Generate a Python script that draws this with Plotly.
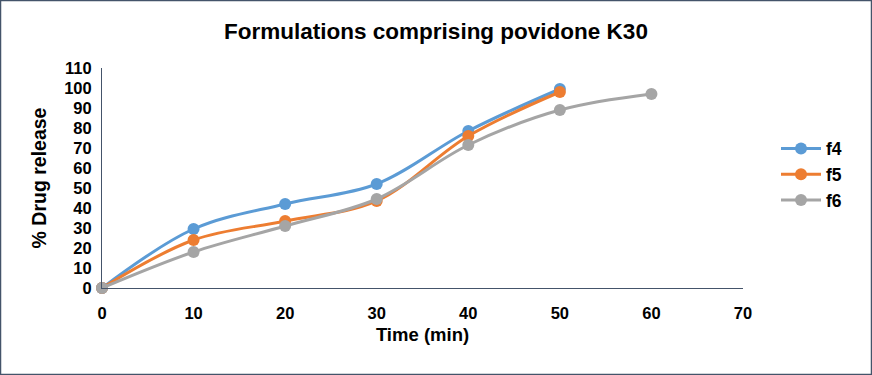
import plotly.graph_objects as go

time_f4 = [0, 10, 20, 30, 40, 50]
f4 = [0, 29.5, 42, 52, 78.5, 99.5]
time_f5 = [0, 10, 20, 30, 40, 50]
f5 = [0, 24, 33.5, 43.5, 76, 98]
time_f6 = [0, 10, 20, 30, 40, 50, 60]
f6 = [0, 18, 31, 44.5, 71.5, 89, 97]

colors = {"f4": "#5B9BD5", "f5": "#ED7D31", "f6": "#A5A5A5"}

W, H = 872, 375
L, R, T, B = 102, 129, 68, 87
font = "Liberation Sans, Arial, sans-serif"

fig = go.Figure()
for name, xs, ys in [("f4", time_f4, f4), ("f5", time_f5, f5), ("f6", time_f6, f6)]:
    fig.add_trace(go.Scatter(
        x=xs, y=ys, name=name, mode="lines+markers",
        line=dict(color=colors[name], width=3, shape="spline", smoothing=1.0),
        marker=dict(color=colors[name], size=12),
        cliponaxis=False,
    ))

pw = W - L - R
ph = H - T - B
x0 = (0.5 - L) / pw
x1 = (W - 0.5 - L) / pw
y0 = -(B - 0.5) / ph
y1 = 1 + (T - 0.5) / ph

bold = dict(family=font, color="black", weight="bold")

fig.update_layout(
    width=W, height=H,
    margin=dict(l=L, r=R, t=T, b=B),
    paper_bgcolor="white", plot_bgcolor="white",
    font=dict(family=font, color="black", size=16),
    title=dict(text="Formulations comprising povidone K30", x=0.5, xanchor="center",
               y=1 - 31 / H, yanchor="middle", font=dict(size=22.5, **bold)),
    xaxis=dict(range=[0, 70], tickvals=[0, 10, 20, 30, 40, 50, 60, 70], showgrid=False,
               zeroline=False, showline=True, linecolor="#44546A", linewidth=1,
               ticks="", tickfont=dict(size=16.5, **bold), ticklabelstandoff=10,
               title=dict(text="Time (min)", font=dict(size=18.5, **bold), standoff=7)),
    yaxis=dict(range=[0, 110], tickvals=list(range(0, 111, 10)), showgrid=False,
               zeroline=False, showline=True, linecolor="#44546A", linewidth=1,
               ticks="", tickfont=dict(size=16.5, **bold), ticklabelstandoff=6,
               title=dict(text="% Drug release", font=dict(size=19.5, **bold), standoff=12)),
    legend=dict(x=1 + (776 - W + R) / pw, y=0.515, xanchor="left", yanchor="middle",
                font=dict(size=17.5, **bold), itemwidth=40, tracegroupgap=0,
                bgcolor="rgba(0,0,0,0)"),
    shapes=[dict(type="rect", xref="paper", yref="paper", x0=x0, x1=x1, y0=y0, y1=y1,
                 line=dict(color="#44546A", width=1.5), layer="below")],
)

fig.write_html("out.html", config={"displayModeBar": False},
               post_script="document.body.style.margin='0';document.body.style.padding='0';")
